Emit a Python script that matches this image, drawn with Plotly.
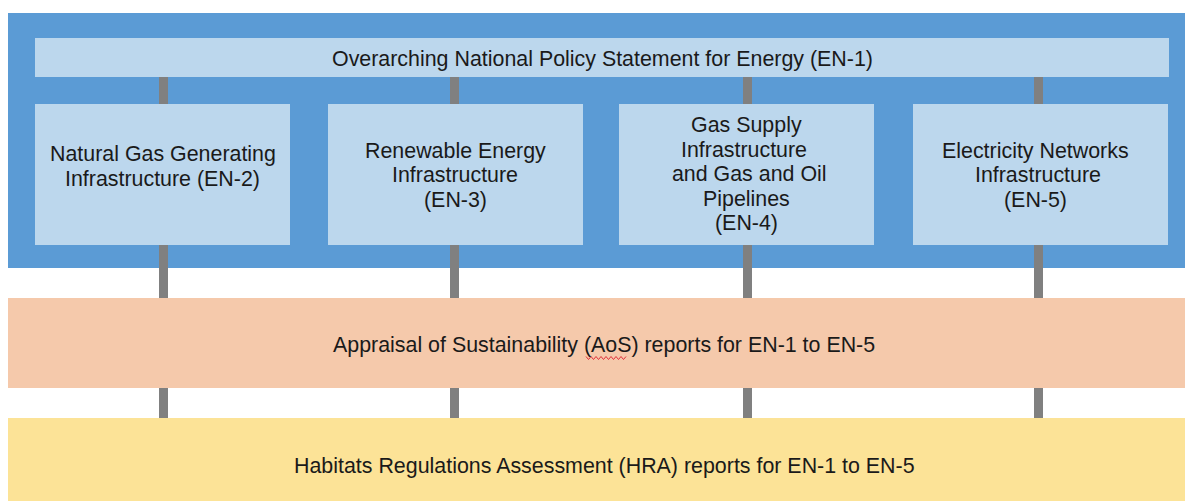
import plotly.graph_objects as go

# ---- content ----
top_label = "Overarching National Policy Statement for Energy (EN-1)"
sub_labels = [
    "Natural Gas Generating<br>Infrastructure (EN-2)",
    "Renewable Energy<br>Infrastructure<br>(EN-3)",
    "Gas Supply<br>Infrastructure <br> and Gas and Oil<br>Pipelines<br>(EN-4)",
    "Electricity Networks<br> Infrastructure<br>(EN-5)",
]
band_labels = [
    "Appraisal of Sustainability (AoS) reports for EN-1 to EN-5",
    "Habitats Regulations Assessment (HRA) reports for EN-1 to EN-5",
]

# ---- layout constants ----
W, H = 1185, 501
BLUE = "#5B9BD5"
LIGHT = "#BCD7ED"
PEACH = "#F5C9AB"
YELLOW = "#FCE397"
GREY = "#808080"
TXT = "#1A1A1A"
FONT = "Liberation Sans, Arial, sans-serif"
FS = 21.4
LINE = 24.5

outer = (8, 13, W + 2, 268)
top_box = (35, 38, 1169, 77)
box_x0 = [35, 328, 619, 913]
box_w = 255
box_y = (104, 245)
text_cx = [162.5, 455, 746.5, 1035]
text_cy = [166.5, 175, 174, 175]
conn_cx = [163.5, 454.5, 747.5, 1038.5]
conn_w = 9
peach = (8, 298, W + 2, 388)
yellow = (8, 418, W + 2, H + 2)
band_text_x = 604
band_text_y = [345, 466]

shapes = []
ann = []


def rect(x0, y0, x1, y1, color):
    shapes.append(dict(type="rect", xref="x", yref="y", x0=x0, y0=y0, x1=x1, y1=y1,
                       fillcolor=color, line=dict(width=0), layer="below"))


def text_block(label, cx, cy):
    lines = label.split("<br>")
    n = len(lines)
    for i, ln in enumerate(lines):
        ann.append(dict(x=cx, y=cy + (i - (n - 1) / 2) * LINE, text=ln))


rect(*outer, BLUE)
for cx in conn_cx:
    rect(cx - conn_w / 2, 77, cx + conn_w / 2, 418, GREY)
rect(*top_box, LIGHT)
for x0 in box_x0:
    rect(x0, box_y[0], x0 + box_w, box_y[1], LIGHT)
rect(*peach, PEACH)
rect(*yellow, YELLOW)

text_block(top_label, (top_box[0] + top_box[2]) / 2, 59)
for lab, cx, cy in zip(sub_labels, text_cx, text_cy):
    text_block(lab, cx, cy)
for lab, ty in zip(band_labels, band_text_y):
    text_block(lab, band_text_x, ty)

annotations = [dict(a, xref="x", yref="y", showarrow=False, xanchor="center", yanchor="middle",
                    align="center", font=dict(family=FONT, size=FS, color=TXT)) for a in ann]

# spell-check squiggle under "AoS"
sq_x0, sq_x1, sq_y = 586, 628, 358
pts = []
x = sq_x0
i = 0
while x <= sq_x1:
    pts.append(f"{x},{sq_y + (1.5 if i % 2 else -1.5)}")
    x += 2.5
    i += 1
shapes.append(dict(type="path", xref="x", yref="y", path="M " + " L ".join(pts),
                   line=dict(color="#E0303A", width=1), layer="above"))

fig = go.Figure()
fig.update_layout(
    width=W, height=H,
    margin=dict(l=0, r=0, t=0, b=0),
    paper_bgcolor="white", plot_bgcolor="white",
    xaxis=dict(range=[0, W], visible=False, fixedrange=True),
    yaxis=dict(range=[H, 0], visible=False, fixedrange=True),
    shapes=shapes, annotations=annotations, showlegend=False,
)
fig.write_html("out.html", config={"displayModeBar": False},
               post_script="document.body.style.margin='0';document.body.style.overflow='hidden';")
